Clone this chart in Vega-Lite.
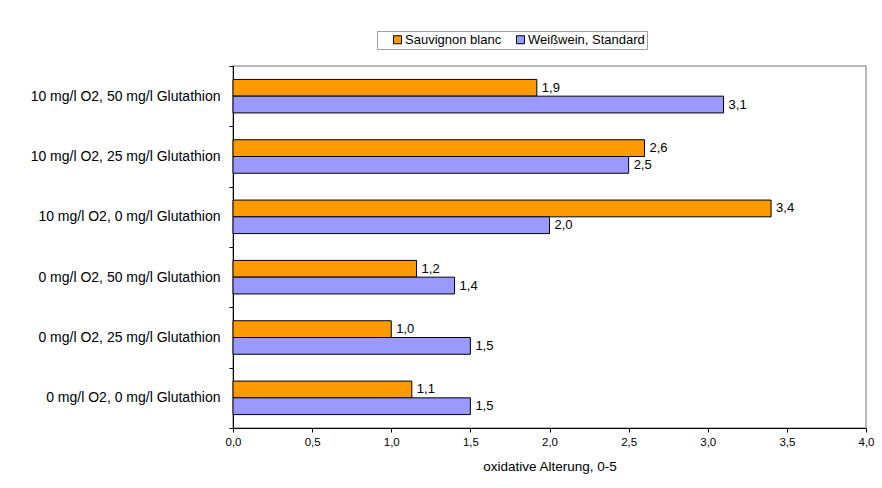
{
  "$schema": "https://vega.github.io/schema/vega-lite/v6.json",
  "autosize": "none",
  "width": 633,
  "height": 362,
  "padding": {"left": 233, "top": 66, "right": 16, "bottom": 60},
  "background": "white",
  "config": {
    "font": "Liberation Sans",
    "locale": {"number": {"decimal": ",", "thousands": ".", "grouping": [3], "currency": ["", " €"]}},
    "view": {"stroke": "#a0a0a0", "strokeWidth": 1.5},
    "axis": {"labelColor": "black", "titleColor": "black", "domainColor": "black", "tickColor": "black", "grid": false}
  },
  "data": {
    "values": [
      {"cond": "10 mg/l O2, 50 mg/l Glutathion", "series": "Sauvignon blanc", "value": 1.92},
      {"cond": "10 mg/l O2, 50 mg/l Glutathion", "series": "Weißwein, Standard", "value": 3.1},
      {"cond": "10 mg/l O2, 25 mg/l Glutathion", "series": "Sauvignon blanc", "value": 2.6},
      {"cond": "10 mg/l O2, 25 mg/l Glutathion", "series": "Weißwein, Standard", "value": 2.5},
      {"cond": "10 mg/l O2, 0 mg/l Glutathion", "series": "Sauvignon blanc", "value": 3.4},
      {"cond": "10 mg/l O2, 0 mg/l Glutathion", "series": "Weißwein, Standard", "value": 2.0},
      {"cond": "0 mg/l O2, 50 mg/l Glutathion", "series": "Sauvignon blanc", "value": 1.16},
      {"cond": "0 mg/l O2, 50 mg/l Glutathion", "series": "Weißwein, Standard", "value": 1.4},
      {"cond": "0 mg/l O2, 25 mg/l Glutathion", "series": "Sauvignon blanc", "value": 1.0},
      {"cond": "0 mg/l O2, 25 mg/l Glutathion", "series": "Weißwein, Standard", "value": 1.5},
      {"cond": "0 mg/l O2, 0 mg/l Glutathion", "series": "Sauvignon blanc", "value": 1.13},
      {"cond": "0 mg/l O2, 0 mg/l Glutathion", "series": "Weißwein, Standard", "value": 1.5}
    ]
  },
  "encoding": {
    "y": {
      "field": "cond", "type": "nominal", "sort": null,
      "scale": {"paddingInner": 0, "paddingOuter": 0},
      "axis": {"title": null, "tickBand": "extent", "tickSize": 4, "labelPadding": 9, "labelFontSize": 14, "labelLimit": 300, "domainWidth": 1}
    },
    "yOffset": {
      "field": "series", "type": "nominal",
      "scale": {"domain": ["Sauvignon blanc", "Weißwein, Standard"], "paddingInner": 0, "paddingOuter": 0.8}
    },
    "x": {
      "field": "value", "type": "quantitative",
      "scale": {"domain": [0, 4], "nice": false},
      "axis": {"title": "oxidative Alterung, 0-5", "values": [0, 0.5, 1, 1.5, 2, 2.5, 3, 3.5, 4], "format": ".1f", "tickSize": 4, "labelPadding": 4, "labelFontSize": 11.5, "titleFontSize": 13.5, "titleFontWeight": "normal", "titlePadding": 12, "labelFlush": false}
    }
  },
  "layer": [
    {
      "mark": {"type": "bar", "stroke": "black", "strokeWidth": 1},
      "encoding": {
        "color": {
          "field": "series", "type": "nominal",
          "scale": {"domain": ["Sauvignon blanc", "Weißwein, Standard"], "range": ["#FF9900", "#9999FF"]},
          "legend": {
            "title": null, "orient": "none", "legendX": 144, "legendY": -35, "direction": "horizontal",
            "strokeColor": "#a0a0a0", "fillColor": "white", "padding": 2,
            "symbolType": "square", "symbolSize": 64, "symbolStrokeColor": "black", "symbolStrokeWidth": 1, "symbolOpacity": 1,
            "symbolOffset": 12,
            "labelFontSize": 13, "labelColor": "black", "columnPadding": 0, "labelOffset": 1
          }
        }
      }
    },
    {
      "mark": {"type": "text", "align": "left", "baseline": "middle", "dx": 5, "fontSize": 13, "color": "black"},
      "encoding": {
        "text": {"field": "value", "type": "quantitative", "format": ".1f"}
      }
    }
  ]
}
